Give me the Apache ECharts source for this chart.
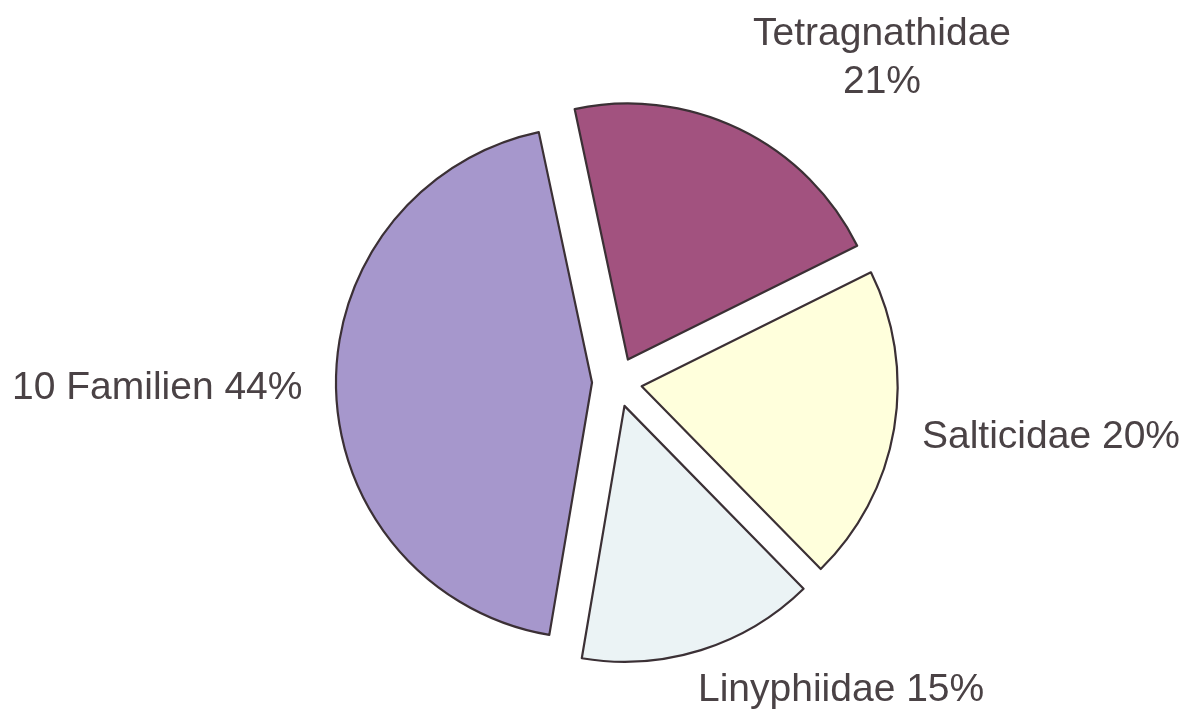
<!DOCTYPE html>
<html>
<head>
<meta charset="utf-8">
<script src="https://cdn.jsdelivr.net/npm/echarts@6/dist/echarts.min.js"></script>
<style>
  html, body { margin: 0; padding: 0; background: #fff; }
  #chart { width: 1192px; height: 713px; }
</style>
</head>
<body>
<div id="chart"></div>
<script>
// slices, clockwise from the top
var families = ["Tetragnathidae", "Salticidae", "Linyphiidae", "10 Familien"];
var shares = [21, 20, 15, 44];
var sliceColors = ["#a2527f", "#ffffdc", "#ebf3f5", "#a697cc"];
var labelBreaks = ["\n", " ", " ", " "];

// where each label sits (pie labels won't go where asked, so they are graphic texts)
var labelSpots = [
    {x: 882, y: 58, align: "center"},
    {x: 922, y: 437, align: "left"},
    {x: 698, y: 690, align: "left"},
    {x: 12, y: 388, align: "left"}
];

var chart = echarts.init(document.getElementById("chart"));

var items = families.map(function (f, i) {
    return {
        name: f,
        value: shares[i],
        selected: true,
        itemStyle: {color: sliceColors[i]}
    };
});

var texts = families.map(function (f, i) {
    var s = labelSpots[i];
    return {
        type: "text",
        x: s.x,
        y: s.y,
        silent: true,
        style: {
            text: f + labelBreaks[i] + shares[i] + "%",
            textAlign: s.align,
            textVerticalAlign: "middle",
            font: "39px 'Liberation Sans'",
            lineHeight: 48,
            fill: "#4a4245"
        }
    };
});

chart.setOption({
    animation: false,
    graphic: {elements: texts},
    series: [{
        type: "pie",
        center: [617, 382],
        radius: 256,
        startAngle: 102,
        clockwise: true,
        selectedMode: "multiple",
        selectedOffset: 25,
        data: items,
        itemStyle: {borderColor: "#3b3035", borderWidth: 2.2},
        emphasis: {disabled: true},
        label: {show: false},
        labelLine: {show: false}
    }]
});
</script>
</body>
</html>
